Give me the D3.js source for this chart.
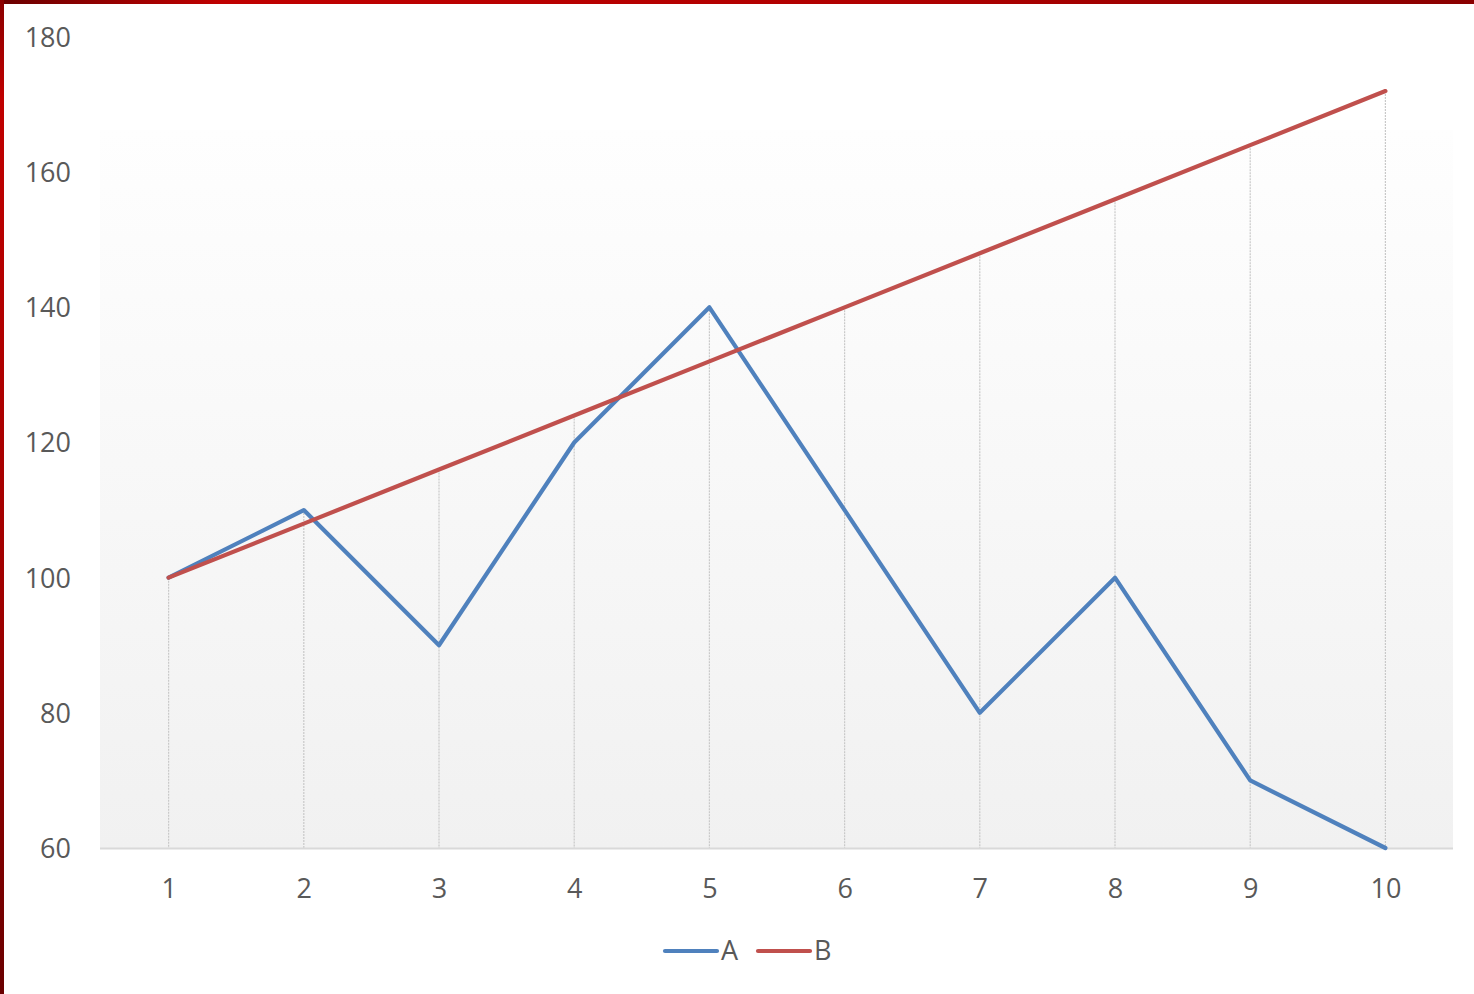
<!DOCTYPE html>
<html><head><meta charset="utf-8">
<script src="https://cdn.jsdelivr.net/npm/d3@7"></script>
<style>html,body{margin:0;padding:0;background:#fff;overflow:hidden}</style>
</head><body>
<svg id="c" width="1474" height="994"></svg>
<script>
const categories = ["1","2","3","4","5","6","7","8","9","10"];
const seriesA = [100,110,90,120,140,110,80,100,70,60];
const seriesB = [100,108,116,124,132,140,148,156,164,172];
const yTicks = [60,80,100,120,140,160,180];
const seriesNames = ["A","B"];
const colors = ["#4f81bd","#c0504d"];

const svg = d3.select("#c");
const defs = svg.append("defs");
const g1 = defs.append("linearGradient").attr("id","pa").attr("x1",0).attr("y1",0).attr("x2",0).attr("y2",1);
g1.append("stop").attr("offset","0").attr("stop-color","#fefefe");
g1.append("stop").attr("offset","1").attr("stop-color","#f1f1f1");
const gt = defs.append("linearGradient").attr("id","bt").attr("x1",0).attr("y1",0).attr("x2",1).attr("y2",0);
gt.append("stop").attr("offset","0").attr("stop-color","#6a0000");
gt.append("stop").attr("offset","0.15").attr("stop-color","#c00000");
gt.append("stop").attr("offset","0.6").attr("stop-color","#b00000");
gt.append("stop").attr("offset","1").attr("stop-color","#8a0000");
const gl = defs.append("linearGradient").attr("id","bl").attr("x1",0).attr("y1",0).attr("x2",0).attr("y2",1);
gl.append("stop").attr("offset","0").attr("stop-color","#8a0000");
gl.append("stop").attr("offset","0.1").attr("stop-color","#c00000");
gl.append("stop").attr("offset","0.6").attr("stop-color","#a00000");
gl.append("stop").attr("offset","1").attr("stop-color","#6a0000");

const x = d3.scalePoint().domain(categories).range([101,1453]).padding(0.5);
const y = d3.scaleLinear().domain([60,180]).range([848,37]);

// plot area gradient
svg.append("rect").attr("x",100).attr("y",130).attr("width",1353).attr("height",848-130).attr("fill","url(#pa)");

// drop lines
const data = categories.map((c,i)=>({c, a:seriesA[i], b:seriesB[i]}));
svg.append("g").selectAll("line").data(data).join("line")
  .attr("x1",d=>x(d.c)).attr("x2",d=>x(d.c))
  .attr("y1",d=>y(Math.max(d.a,d.b))).attr("y2",y(60))
  .attr("stroke","#c9c9c9").attr("stroke-width",1.2).attr("stroke-dasharray","2,1");

// x axis line
svg.append("line").attr("x1",100).attr("x2",1453).attr("y1",848.5).attr("y2",848.5)
  .attr("stroke","#d9d9d9").attr("stroke-width",2);

// y axis labels
const yAxis = d3.axisLeft(y).tickValues(yTicks).tickSize(0).tickPadding(0);
const ya = svg.append("g").attr("transform","translate(71,0)").call(yAxis);
ya.select(".domain").remove();
ya.selectAll("text").attr("font-family","'Open Sans', sans-serif").attr("font-size",27).attr("fill","#595959").attr("dy","0.35em");

// x axis labels
const xAxis = d3.axisBottom(x).tickSize(0).tickPadding(0);
const xa = svg.append("g").attr("transform","translate(0,889)").call(xAxis);
xa.select(".domain").remove();
xa.selectAll("text").attr("font-family","'Open Sans', sans-serif").attr("font-size",27).attr("fill","#595959").attr("dy","0.35em");

// lines
const line = d3.line().x(d=>x(d[0])).y(d=>y(d[1]));
[seriesA, seriesB].forEach((s,k)=>{
  svg.append("path").datum(categories.map((c,i)=>[c,s[i]]))
    .attr("d",line).attr("fill","none").attr("stroke",colors[k])
    .attr("stroke-width",4.2).attr("stroke-linejoin","round").attr("stroke-linecap","round");
});

// legend
const leg = svg.append("g");
const legX = [665, 758];
seriesNames.forEach((n,k)=>{
  leg.append("line").attr("x1",legX[k]).attr("x2",legX[k]+52).attr("y1",951).attr("y2",951)
    .attr("stroke",colors[k]).attr("stroke-width",4.2).attr("stroke-linecap","round");
  leg.append("text").attr("x",legX[k]+56).attr("y",951).attr("dy","0.35em")
    .attr("font-family","'Open Sans', sans-serif").attr("font-size",27).attr("fill","#595959").text(n);
});

// border
svg.append("rect").attr("x",0).attr("y",0).attr("width",1474).attr("height",4).attr("fill","url(#bt)");
svg.append("rect").attr("x",0).attr("y",0).attr("width",4).attr("height",994).attr("fill","url(#bl)");
</script>
</body></html>
